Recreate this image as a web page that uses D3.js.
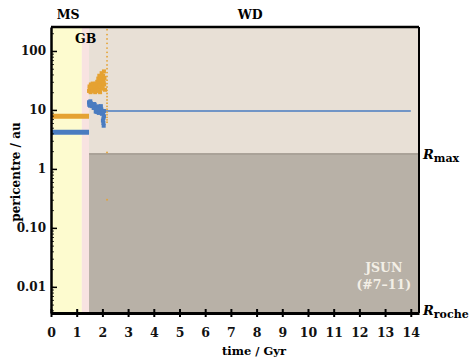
<!DOCTYPE html>
<html>
<head>
<meta charset="utf-8">
<script src="https://cdn.jsdelivr.net/npm/d3@7"></script>
<style>
  body { margin: 0; background: #fff; }
  text { font-family: "DejaVu Serif", serif; font-weight: bold; }
</style>
</head>
<body>
<div id="chart"></div>
<script>
// phases (Gyr)
var phases = [
  {name: "MS", start: 0, end: 1.2, color: "#fdfbcf"},
  {name: "GB", start: 1.2, end: 1.48, color: "#f8e3e1"},
  {name: "WD", start: 1.48, end: 14.32, color: "#e8e0d6"}
];
var rmax = 1.8;

// main sequence lines
var msTime = [0, 1.48];
var msOrange = [7.8, 7.8];
var msBlue = [4.2, 4.2];

// scatter during giant branch / early WD
var orangeT = [1.48, 1.51, 1.54, 1.57, 1.6, 1.63, 1.66, 1.69, 1.72, 1.75, 1.5, 1.55, 1.59, 1.65, 1.71, 1.77,
               1.8, 1.83, 1.86, 1.89, 1.92, 1.95, 1.98, 2.01, 2.04, 2.07, 2.1,
               1.8, 1.84, 1.88, 1.9, 1.94, 1.97, 2.0, 2.03, 2.06, 1.85, 1.93, 1.99, 2.05, 1.62, 1.74, 1.91, 2.08];
var orangeV = [21, 23, 20, 24, 22, 21, 23, 22, 20, 23, 25, 27, 24, 25, 26, 22,
               24, 27, 22, 30, 26, 23, 29, 25, 33, 27, 22,
               30, 34, 38, 26, 36, 42, 31, 38, 45, 21, 33, 24, 29, 28, 28, 20, 35];
var blueT = [1.48, 1.5, 1.53, 1.56, 1.6, 1.64, 1.68, 1.72, 1.76, 1.8, 1.84, 1.88, 1.92, 1.96, 2.0, 2.03, 2.06,
             1.52, 1.58, 1.66, 1.74, 1.82, 1.9, 1.98, 2.04, 2.02, 2.04, 2.05, 2.06, 1.7, 1.86, 1.94, 1.78,
             1.49, 1.55, 1.62, 1.78, 1.84];
var blueV = [13.5, 12.8, 14, 12.5, 11.6, 11.8, 12.6, 11.2, 10.6, 10.5, 11.5, 9.8, 11, 10.2, 9.6, 8.8, 9.6,
             11.8, 12, 10.8, 9.4, 9.2, 10.8, 8.6, 7.2, 6.6, 6.0, 5.4, 7.8, 12.2, 8.9, 11.6, 10.4,
             12.2, 13, 12.4, 9.3, 10.0];
// ejected orbit track
var dotT = 2.18;
var dotV = [230, 190, 160, 135, 112, 95, 80, 68, 58, 50, 43, 37, 32, 28, 24.5, 21.5, 19, 16.8, 14.8, 13, 11.5,
            10.3, 9.2, 8.3, 7.5, 6.8, 6.2, 1.9, 0.3];
// surviving planet
var lineT = [2.06, 14];
var lineV = [9.6, 9.6];

var xTicks = d3.range(0, 15);
var yTicks = [100, 10, 1, 0.1, 0.01];
var yTickLabels = ["100", "10", "1", "0.10", "0.01"];

var margin = {top: 27, right: 54, bottom: 51, left: 51},
    width = 473 - margin.left - margin.right,
    height = 364 - margin.top - margin.bottom;

var svg = d3.select("#chart").append("svg")
    .attr("width", 473).attr("height", 364)
  .append("g")
    .attr("transform", "translate(" + margin.left + "," + margin.top + ")");

var x = d3.scaleLinear().domain([0, 14.32]).range([0, width]);
var y = d3.scaleLog().domain([0.0036, 255]).range([height, 0]);

var orange = "#e5a232", blue = "#4a7cc0";

// phase backgrounds
svg.selectAll("rect.phase").data(phases).enter().append("rect")
    .attr("x", function(d) { return x(d.start); })
    .attr("width", function(d) { return x(d.end) - x(d.start); })
    .attr("y", 0).attr("height", height)
    .attr("fill", function(d) { return d.color; });

// forbidden zone below Rmax
svg.append("rect")
    .attr("x", x(1.48)).attr("width", width - x(1.48))
    .attr("y", y(rmax)).attr("height", height - y(rmax))
    .attr("fill", "#b8b1a7");
svg.append("line")
    .attr("x1", x(1.48)).attr("x2", width)
    .attr("y1", y(rmax)).attr("y2", y(rmax))
    .attr("stroke", "#8f877d").attr("stroke-width", 1);

// MS lines
svg.append("line").attr("x1", x(msTime[0])).attr("x2", x(msTime[1]))
    .attr("y1", y(msOrange[0])).attr("y2", y(msOrange[1]))
    .attr("stroke", orange).attr("stroke-width", 5);
svg.append("line").attr("x1", x(msTime[0])).attr("x2", x(msTime[1]))
    .attr("y1", y(msBlue[0])).attr("y2", y(msBlue[1]))
    .attr("stroke", blue).attr("stroke-width", 5);

// surviving line
svg.append("line").attr("x1", x(lineT[0])).attr("x2", x(lineT[1]))
    .attr("y1", y(lineV[0])).attr("y2", y(lineV[1]))
    .attr("stroke", blue).attr("stroke-width", 1.6);

// scatter
svg.selectAll("rect.or").data(d3.zip(orangeT, orangeV)).enter().append("rect")
    .attr("x", function(d) { return x(d[0]) - 2; })
    .attr("y", function(d) { return y(d[1]) - 2; })
    .attr("width", 4).attr("height", 4).attr("fill", orange);
svg.selectAll("rect.bl").data(d3.zip(blueT, blueV)).enter().append("rect")
    .attr("x", function(d) { return x(d[0]) - 2; })
    .attr("y", function(d) { return y(d[1]) - 2; })
    .attr("width", 4).attr("height", 4).attr("fill", blue);
svg.selectAll("circle.dot").data(dotV).enter().append("circle")
    .attr("cx", x(dotT)).attr("cy", function(d) { return y(d); })
    .attr("r", 0.9).attr("fill", orange);

// frame
svg.append("line").attr("x1", 0).attr("x2", width).attr("y1", 0).attr("y2", 0)
    .attr("stroke", "#000").attr("stroke-width", 2.5);
svg.append("line").attr("x1", width).attr("x2", width).attr("y1", 0).attr("y2", height)
    .attr("stroke", "#000").attr("stroke-width", 2);

// axes
var xAxis = svg.append("g").attr("transform", "translate(0," + height + ")")
    .call(d3.axisBottom(x).tickValues(xTicks).tickSize(4).tickPadding(11).tickSizeOuter(0));
xAxis.select(".domain").attr("stroke-width", 3);
xAxis.selectAll(".tick line").attr("y1", -4).attr("stroke-width", 2);
xAxis.selectAll("text").style("font-size", "12.5px").attr("fill", "#111");

var minor = [];
[-3, -2, -1, 0, 1, 2].forEach(function(e) {
  for (var k = 1; k < 10; k++) {
    var v = k * Math.pow(10, e);
    if (v >= 0.0036 && v <= 255) minor.push(v);
  }
});
svg.append("g").call(d3.axisLeft(y).tickValues(minor).tickSize(-3).tickFormat(""))
    .call(function(g) { g.select(".domain").remove(); })
    .selectAll("line").attr("stroke-width", 0.8);

var yAxis = svg.append("g")
    .call(d3.axisLeft(y).tickValues(yTicks).tickSize(-6).tickPadding(5).tickSizeOuter(0)
      .tickFormat(function(d, i) { return yTickLabels[i]; }));
yAxis.select(".domain").attr("stroke-width", 2.5);
yAxis.selectAll(".tick line").attr("stroke-width", 1.5);
yAxis.selectAll("text").style("font-size", "12px").attr("fill", "#111");

// labels
svg.append("text").attr("x", x(0.67)).attr("y", -8).attr("text-anchor", "middle")
    .style("font-size", "12.5px").text("MS");
svg.append("text").attr("x", x(7.75)).attr("y", -8).attr("text-anchor", "middle")
    .style("font-size", "12.5px").text("WD");
svg.append("text").attr("x", x(1.35)).attr("y", 16).attr("text-anchor", "middle")
    .style("font-size", "12.5px").text("GB");

svg.append("text").attr("x", x(7.9)).attr("y", height + 42).attr("text-anchor", "middle")
    .style("font-size", "11.5px").text("time / Gyr");
svg.append("text").attr("transform", "translate(-31," + (height / 2 + 2) + ") rotate(-90)")
    .attr("text-anchor", "middle").style("font-size", "12px").text("pericentre / au");

var rm = svg.append("text").attr("x", width + 4).attr("y", y(rmax) + 5).style("font-size", "13px");
rm.append("tspan").style("font-style", "italic").text("R");
rm.append("tspan").attr("dy", 3).style("font-size", "11px").text("max");
var rr = svg.append("text").attr("x", width + 4).attr("y", height + 2).style("font-size", "13px");
rr.append("tspan").style("font-style", "italic").text("R");
rr.append("tspan").attr("dy", 3).style("font-size", "11px").text("roche");

svg.append("text").attr("x", x(12.95)).attr("y", height - 41).attr("text-anchor", "middle")
    .style("font-size", "12.5px").attr("fill", "#f3efe6").text("JSUN");
svg.append("text").attr("x", x(12.95)).attr("y", height - 24).attr("text-anchor", "middle")
    .style("font-size", "12.5px").attr("fill", "#f3efe6").text("(#7\u201311)");
</script>
</body>
</html>
